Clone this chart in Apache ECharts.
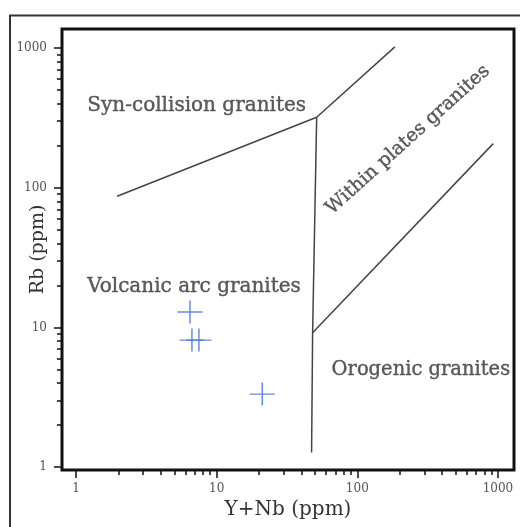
<!DOCTYPE html>
<html><head><meta charset="utf-8">
<script src="https://cdn.jsdelivr.net/npm/echarts@6/dist/echarts.min.js"></script>
<style>html,body{margin:0;padding:0;background:#fff}#c{width:520px;height:527px}</style>
</head><body><div id="c"></div>
<script>
// axis names and ranges
const xName = 'Y+Nb (ppm)';
const yName = 'Rb (ppm)';
const xRange = [0.795, 1300];
const yRange = [0.953, 1370];
const majorTicks = [1, 10, 100, 1000];
const minorTicks = [2,3,4,5,6,7,8,9,20,30,40,50,60,70,80,90,200,300,400,500,600,700,800,900];

// sample points (Y+Nb, Rb)
const samples = [[6.46, 12.9], [6.67, 8.11], [7.48, 8.11], [21.1, 3.33]];

// field boundaries (Y+Nb, Rb)
const synColBoundary = [[1.96, 87], [51.4, 320]];
const wpgUpperBoundary = [[51.4, 320], [185, 1020]];
const vagBoundary = [[51.4, 320], [48.1, 9.15], [47.3, 1.27]];
const orgBoundary = [[48.1, 9.15], [925, 207]];

// field names and their label centres (data coords)
const fieldNames = ['Syn-collision granites', 'Volcanic arc granites', 'Orogenic granites', 'Within plates granites'];
const fieldCentres = [[7.21, 386], [6.9, 19.4], [283, 4.95], [229, 220]];
const fieldRotation = [0, 0, 0, 42];
const fieldFontSizes = [20, 20, 19.5, 19];

const serif = 'DejaVu Serif';
const chart = echarts.init(document.getElementById('c'), null, {renderer: 'canvas'});

function xAxisBase(extra) {
  return Object.assign({
    type: 'log', logBase: 10, min: xRange[0], max: xRange[1], position: 'bottom',
    axisLine: {show: false}, splitLine: {show: false}, minorTick: {show: false}
  }, extra);
}
function yAxisBase(extra) {
  return Object.assign({
    type: 'log', logBase: 10, min: yRange[0], max: yRange[1], position: 'left',
    axisLine: {show: false}, splitLine: {show: false}, minorTick: {show: false}
  }, extra);
}

const boundaryStyle = {color: '#444', width: 1.5};
function boundary(data) {
  return {type: 'line', data: data, symbol: 'none', silent: true, lineStyle: boundaryStyle, z: 3, animation: false};
}
const plain = v => String(Math.round(v));

chart.setOption({
  animation: false,
  backgroundColor: '#fff',
  grid: {left: 62, top: 29, right: 6, bottom: 57, show: true, borderColor: '#111', borderWidth: 3,
         containLabel: false, outerBoundsMode: 'none'},
  graphic: [{
    type: 'rect', shape: {x: 10, y: 15.5, width: 700, height: 700},
    style: {fill: 'none', stroke: '#333', lineWidth: 2}, silent: true, z: -1
  }],
  xAxis: [
    xAxisBase({
      name: xName, nameLocation: 'middle', nameGap: 30, nameMoveOverlap: false,
      nameTextStyle: {fontFamily: serif, fontSize: 20, color: '#333'},
      axisTick: {show: true, customValues: majorTicks, length: 8, lineStyle: {color: '#111', width: 1.5}},
      axisLabel: {show: true, customValues: majorTicks, formatter: plain, margin: 13, fontFamily: serif, fontSize: 12, color: '#555'}
    }),
    xAxisBase({
      axisTick: {show: true, customValues: minorTicks, length: 5, lineStyle: {color: '#111', width: 1.5}},
      axisLabel: {show: false}
    })
  ],
  yAxis: [
    yAxisBase({
      name: yName, nameLocation: 'middle', nameGap: 14, nameRotate: 90, nameMoveOverlap: false,
      nameTextStyle: {fontFamily: serif, fontSize: 19, color: '#333'},
      axisTick: {show: true, customValues: majorTicks, length: 8, lineStyle: {color: '#111', width: 1.5}},
      axisLabel: {show: true, customValues: majorTicks, formatter: plain, margin: 15, fontFamily: serif, fontSize: 12, color: '#555'}
    }),
    yAxisBase({
      axisTick: {show: true, customValues: minorTicks, length: 5, lineStyle: {color: '#111', width: 1.5}},
      axisLabel: {show: false}
    })
  ],
  series: [
    boundary(synColBoundary),
    boundary(wpgUpperBoundary),
    boundary(vagBoundary),
    boundary(orgBoundary),
    {
      type: 'scatter', data: samples, z: 4,
      symbol: 'path://M10,0V20M0,10H20', symbolSize: [25, 23],
      itemStyle: {color: 'transparent', borderColor: '#3f6ae0', borderWidth: 1.4}
    },
    {
      type: 'scatter', z: 5, silent: true, symbolSize: 0,
      data: fieldNames.map((n, i) => ({
        value: fieldCentres[i], name: n,
        label: {rotate: fieldRotation[i], fontSize: fieldFontSizes[i]}
      })),
      label: {
        show: true, position: 'inside', formatter: p => p.name,
        fontFamily: serif, fontSize: 20, color: '#333', align: 'center', verticalAlign: 'middle',
        textBorderColor: '#444', textBorderWidth: 0.4
      }
    }
  ]
});
</script></body></html>
